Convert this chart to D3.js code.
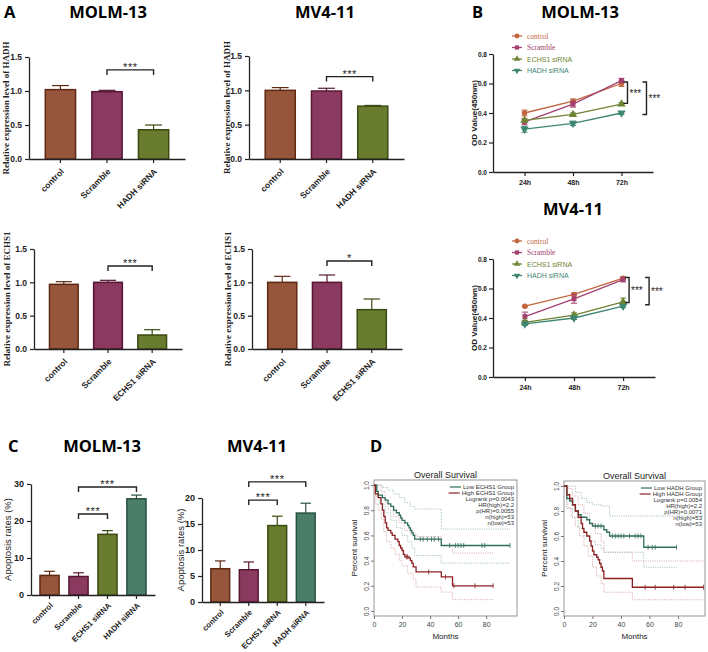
<!DOCTYPE html>
<html>
<head>
<meta charset="utf-8">
<script src="https://cdn.jsdelivr.net/npm/d3@7"></script>
<style>
  body { margin: 0; background: #fff; }
  text { font-family: 'Liberation Sans', Arial, sans-serif; }
</style>
</head>
<body>
<svg id="fig" width="708" height="652"></svg>
<script>
// ---------- data ----------
const hadhCats = ['control', 'Scramble', 'HADH siRNA'];
const echs1Cats = ['control', 'Scramble', 'ECHS1 siRNA'];
const apopCats = ['control', 'Scramble', 'ECHS1 siRNA', 'HADH siRNA'];

const molmHadhMean = [1.02, 0.99, 0.43];
const molmHadhSd = [0.06, 0.02, 0.07];
const mvHadhMean = [1.0, 0.99, 0.77];
const mvHadhSd = [0.04, 0.04, 0.01];
const molmEchs1Mean = [0.97, 1.0, 0.21];
const molmEchs1Sd = [0.04, 0.03, 0.08];
const mvEchs1Mean = [1.0, 1.0, 0.59];
const mvEchs1Sd = [0.09, 0.11, 0.16];
const exprTicks = [0, 0.5, 1.0, 1.5];

const molmApopMean = [5.3, 5.0, 16.4, 26.0];
const molmApopSd = [1.1, 1.0, 1.0, 1.0];
const mvApopMean = [6.4, 6.2, 14.7, 17.1];
const mvApopSd = [1.5, 1.5, 1.8, 1.9];

const timePoints = ['24h', '48h', '72h'];
const odSeries = ['control', 'Scramble', 'ECHS1 siRNA', 'HADH siRNA'];
const molmOdMean = [[0.40, 0.48, 0.60], [0.34, 0.46, 0.62], [0.35, 0.39, 0.46], [0.29, 0.33, 0.40]];
const molmOdSd = [[0.02, 0.015, 0.02], [0.02, 0.02, 0.015], [0.01, 0.01, 0.01], [0.02, 0.015, 0.01]];
const mvOdMean = [[0.48, 0.56, 0.67], [0.41, 0.53, 0.66], [0.37, 0.42, 0.51], [0.36, 0.40, 0.48]];
const mvOdSd = [[0.005, 0.01, 0.01], [0.03, 0.03, 0.015], [0.015, 0.015, 0.025], [0.01, 0.01, 0.01]];
const odTicks = [0, 0.2, 0.4, 0.6, 0.8];

// Kaplan-Meier curves: [month, survival]
const kmEchs1Low = [[0,1],[2,0.95],[3,0.92],[6,0.90],[8,0.88],[10,0.85],[12,0.83],[14,0.80],[16,0.78],[18,0.76],[19,0.74],[20,0.72],[22,0.70],[24,0.68],[25,0.66],[26,0.64],[27,0.62],[28,0.60],[29,0.57],[48,0.52],[97,0.52]];
const kmEchs1High = [[0,1],[1,0.93],[3,0.90],[5,0.85],[6,0.80],[7,0.75],[8,0.70],[9,0.66],[10,0.64],[12,0.62],[13,0.60],[15,0.57],[17,0.55],[18,0.52],[19,0.50],[20,0.48],[21,0.45],[22,0.43],[25,0.42],[26,0.40],[27,0.38],[28,0.35],[30,0.31],[48,0.27],[56,0.20],[85,0.20]];
const kmEchs1LowCens = [33, 35, 38, 41, 43, 46, 54, 58, 60, 62, 64, 77, 79, 97];
const kmEchs1HighCens = [23, 24, 39, 51, 57, 72, 85];
const kmEchs1LowUp = [[0,1],[3,1],[6,0.98],[10,0.96],[14,0.93],[18,0.90],[22,0.86],[26,0.83],[29,0.81],[48,0.65],[97,0.65]];
const kmEchs1LowLo = [[0,1],[2,0.90],[4,0.85],[8,0.78],[12,0.72],[16,0.66],[20,0.60],[24,0.55],[27,0.50],[29,0.44],[48,0.38],[97,0.38]];
const kmEchs1HighUp = [[0,1],[2,1],[5,0.95],[8,0.86],[10,0.80],[14,0.75],[18,0.70],[22,0.64],[26,0.61],[30,0.59],[48,0.52],[56,0.46],[85,0.46]];
const kmEchs1HighLo = [[0,1],[1,0.85],[3,0.80],[5,0.73],[7,0.63],[9,0.55],[12,0.50],[15,0.45],[18,0.40],[20,0.36],[24,0.30],[28,0.25],[30,0.19],[48,0.15],[56,0.09],[85,0.09]];
const kmEchs1Legend = ['Low ECHS1 Group', 'High ECHS1 Group', 'Logrank p=0.0043', 'HR(high)=2.2', 'p(HR)=0.0055', 'n(high)=53', 'n(low)=53'];

const kmHadhLow = [[0,1],[2,0.90],[4,0.88],[6,0.85],[8,0.80],[10,0.77],[12,0.75],[16,0.73],[18,0.70],[20,0.68],[28,0.65],[30,0.63],[32,0.60],[56,0.51],[79,0.51]];
const kmHadhHigh = [[0,1],[2,0.93],[4,0.90],[6,0.85],[8,0.80],[10,0.75],[12,0.70],[13,0.66],[14,0.63],[16,0.60],[18,0.56],[19,0.52],[20,0.48],[21,0.45],[23,0.43],[24,0.41],[25,0.38],[26,0.35],[27,0.32],[28,0.26],[48,0.19],[98,0.19]];
const kmHadhLowCens = [22, 24, 26, 34, 36, 38, 40, 42, 46, 50, 52, 54, 59, 62, 64, 79];
const kmHadhHighCens = [57, 64, 77, 85, 98];
const kmHadhLowUp = [[0,1],[4,1],[8,0.95],[12,0.90],[16,0.87],[20,0.85],[26,0.84],[32,0.76],[98,0.76]];
const kmHadhLowLo = [[0,1],[2,0.82],[6,0.75],[10,0.66],[14,0.60],[18,0.56],[22,0.53],[26,0.50],[28,0.47],[56,0.35],[79,0.35]];
const kmHadhHighUp = [[0,1],[3,0.98],[6,0.92],[10,0.85],[14,0.78],[18,0.70],[22,0.62],[26,0.56],[28,0.47],[48,0.40],[98,0.40]];
const kmHadhHighLo = [[0,1],[2,0.83],[5,0.75],[8,0.68],[11,0.60],[14,0.52],[17,0.44],[20,0.35],[23,0.28],[26,0.22],[28,0.15],[48,0.09],[98,0.09]];
const kmHadhLegend = ['Low HADH Group', 'High HADH Group', 'Logrank p=0.0054', 'HR(high)=2.2', 'p(HR)=0.0071', 'n(high)=53', 'n(low)=53'];
const kmMonthTicks = [0, 20, 40, 60, 80];
const kmSurvTicks = [0, 0.2, 0.4, 0.6, 0.8, 1.0];

// ---------- colours ----------
const barFill = {brown: '#95563b', plum: '#893a5e', olive: '#687b2e', teal: '#4b7e69'};
const barEdge = {brown: '#5f2a13', plum: '#571634', olive: '#3b4b11', teal: '#28503f'};
const lineColor = ['#c1653e', '#a3406f', '#6d8433', '#3e8672'];
const lineSymbol = [d3.symbolCircle, d3.symbolSquare, d3.symbolTriangle, d3.symbolTriangle];
const kmGreen = '#2f6e58', kmRed = '#8c1f22';
const kmGreenCi = '#8fb8a6', kmRedCi = '#d39c9c';

const svg = d3.select('#fig');

const heading = (x, y, t, anchor) => svg.append('text')
    .attr('x', x).attr('y', y).attr('text-anchor', anchor || 'middle')
    .style('font-family', "'Open Sans', sans-serif").style('font-weight', 700).style('font-size', '16.5px')
    .text(t);

const vLabel = (g, x, y, t, size, family, weight) => g.append('text')
    .attr('transform', `translate(${x},${y}) rotate(-90)`)
    .attr('text-anchor', 'middle')
    .style('font-family', family).style('font-weight', weight).style('font-size', size + 'px')
    .attr('fill', '#222').text(t);

const styleAxis = (a, size) => {
    a.select('.domain').attr('stroke', '#222').attr('stroke-width', 1.3);
    a.selectAll('.tick line').attr('stroke', '#222').attr('stroke-width', 1.2);
    a.selectAll('.tick text').attr('fill', '#222').style('font-weight', 700).style('font-size', size + 'px');
};

// ---------- bar panels ----------
function barPanel(cfg) {
    const g = svg.append('g');
    const y = d3.scaleLinear().domain([0, cfg.max]).range([cfg.bottom, cfg.top]);
    const x = d3.scaleBand().domain(cfg.cats).range([cfg.left, cfg.right])
        .paddingInner(cfg.pi).paddingOuter(cfg.po);
    const bw = x.bandwidth();
    const rows = cfg.cats.map((c, i) => ({cat: c, mean: cfg.mean[i], sd: cfg.sd[i], col: cfg.colors[i]}));

    g.selectAll('rect').data(rows).enter().append('rect')
        .attr('x', d => x(d.cat)).attr('y', d => y(d.mean))
        .attr('width', bw).attr('height', d => y(0) - y(d.mean))
        .attr('fill', d => barFill[d.col]).attr('stroke', d => barEdge[d.col]).attr('stroke-width', 1.5);

    const eb = g.selectAll('g.eb').data(rows).enter().append('g')
        .attr('stroke', d => barEdge[d.col]).attr('stroke-width', 1.2);
    eb.append('line')
        .attr('x1', d => x(d.cat) + bw / 2).attr('x2', d => x(d.cat) + bw / 2)
        .attr('y1', d => y(d.mean)).attr('y2', d => y(d.mean + d.sd));
    eb.append('line')
        .attr('x1', d => x(d.cat) + bw * 0.22).attr('x2', d => x(d.cat) + bw * 0.78)
        .attr('y1', d => y(d.mean + d.sd)).attr('y2', d => y(d.mean + d.sd));

    const ya = g.append('g').attr('transform', `translate(${cfg.left},0)`)
        .call(d3.axisLeft(y).tickValues(cfg.ticks).tickFormat(cfg.fmt).tickSize(4).tickSizeOuter(0));
    styleAxis(ya, cfg.tickFont);

    const xa = g.append('g').attr('transform', `translate(0,${cfg.bottom})`)
        .call(d3.axisBottom(x).tickSize(4).tickSizeOuter(0));
    styleAxis(xa, cfg.labelFont);
    xa.selectAll('.tick text')
        .attr('x', 0).attr('y', 0).attr('dy', '0.35em')
        .attr('text-anchor', 'end')
        .attr('transform', `translate(2,${cfg.labelDrop}) rotate(-45)`);

    cfg.sig.forEach(s => {
        const x1 = x(cfg.cats[s.a]) + bw / 2, x2 = x(cfg.cats[s.b]) + bw / 2, yb = y(s.level);
        g.append('path').attr('d', `M${x1},${yb + 5}V${yb}H${x2}V${yb + 5}`)
            .attr('fill', 'none').attr('stroke', '#222').attr('stroke-width', 1.4);
        g.append('text').attr('x', (x1 + x2) / 2).attr('y', yb + 1).attr('text-anchor', 'middle')
            .style('font-size', '11px').style('letter-spacing', '0.5px').attr('fill', '#222').text(s.label);
    });

    vLabel(g, cfg.labelX, (cfg.top + cfg.bottom) / 2, cfg.ylabel,
        cfg.ylabelSize, cfg.ylabelFamily, cfg.ylabelWeight);
}

const exprFmt = d3.format('.1f');
const serif = "'Liberation Serif', 'Times New Roman', serif";
const sans = "'Liberation Sans', Arial, sans-serif";
const exprBase = {max: 1.5, ticks: exprTicks, fmt: exprFmt, pi: 0.35, po: 0.35, tickFont: 8.5, labelFont: 8.5,
    labelDrop: 11, colors: ['brown', 'plum', 'olive'], ylabelSize: 9, ylabelFamily: serif, ylabelWeight: 700};

heading(4, 18, 'A', 'start');
heading(108, 18, 'MOLM-13');
heading(325, 18, 'MV4-11');

barPanel(Object.assign({}, exprBase, {left: 29, right: 185, top: 57, bottom: 159, cats: hadhCats,
    mean: molmHadhMean, sd: molmHadhSd, sig: [{a: 1, b: 2, level: 1.31, label: '***'}],
    labelX: 9, ylabel: 'Relative expression level of HADH'}));
barPanel(Object.assign({}, exprBase, {left: 249, right: 404, top: 56, bottom: 159, cats: hadhCats,
    mean: mvHadhMean, sd: mvHadhSd, sig: [{a: 1, b: 2, level: 1.2, label: '***'}],
    labelX: 230, ylabel: 'Relative expression level of HADH'}));
barPanel(Object.assign({}, exprBase, {left: 34, right: 182, top: 249, bottom: 349, cats: echs1Cats,
    mean: molmEchs1Mean, sd: molmEchs1Sd, sig: [{a: 1, b: 2, level: 1.245, label: '***'}],
    labelX: 10, ylabel: 'Relative expression level of ECHS1'}));
barPanel(Object.assign({}, exprBase, {left: 252, right: 402, top: 249, bottom: 349, cats: echs1Cats,
    mean: mvEchs1Mean, sd: mvEchs1Sd, sig: [{a: 1, b: 2, level: 1.32, label: '*'}],
    labelX: 231, ylabel: 'Relative expression level of ECHS1'}));

// ---------- line panels ----------
function linePanel(cfg) {
    const g = svg.append('g');
    const y = d3.scaleLinear().domain([0, 0.8]).range([cfg.bottom, cfg.top]);
    const x = d3.scalePoint().domain(timePoints).range([cfg.left, cfg.right]).padding(0.65);

    const ya = g.append('g').attr('transform', `translate(${cfg.left},0)`)
        .call(d3.axisLeft(y).tickValues(odTicks).tickFormat(d3.format('.1f')).tickSize(4).tickPadding(2).tickSizeOuter(0));
    styleAxis(ya, 6.5);
    const xa = g.append('g').attr('transform', `translate(0,${cfg.bottom})`)
        .call(d3.axisBottom(x).tickSize(4).tickSizeOuter(0));
    styleAxis(xa, 7);
    xa.selectAll('.tick text').attr('y', 8);

    const line = d3.line().x((d, i) => x(timePoints[i])).y(d => y(d));
    odSeries.forEach((s, k) => {
        const c = lineColor[k];
        g.append('path').datum(cfg.mean[k]).attr('d', line)
            .attr('fill', 'none').attr('stroke', c).attr('stroke-width', 1.3);
        cfg.mean[k].forEach((m, i) => {
            const cx = x(timePoints[i]), e = cfg.sd[k][i];
            g.append('path').attr('d', `M${cx},${y(m - e)}V${y(m + e)}M${cx - 3},${y(m - e)}H${cx + 3}M${cx - 3},${y(m + e)}H${cx + 3}`)
                .attr('stroke', c).attr('stroke-width', 1).attr('fill', 'none');
            g.append('path').attr('d', d3.symbol().type(lineSymbol[k]).size(k < 2 ? 24 : 30)())
                .attr('transform', `translate(${cx},${y(m)})` + (k === 3 ? ' rotate(180)' : ''))
                .attr('fill', c);
        });
        const ly = cfg.legendY + k * 11.5;
        g.append('line').attr('x1', cfg.legendX - 5).attr('x2', cfg.legendX + 5)
            .attr('y1', ly).attr('y2', ly).attr('stroke', c).attr('stroke-width', 1.3);
        g.append('path').attr('d', d3.symbol().type(lineSymbol[k]).size(18)())
            .attr('transform', `translate(${cfg.legendX},${ly})` + (k === 3 ? ' rotate(180)' : ''))
            .attr('fill', c);
        g.append('text').attr('x', cfg.legendX + 10).attr('y', ly + 2.5)
            .style('font-family', k < 2 ? serif : sans).style('font-size', k < 2 ? '7.5px' : '7px')
            .attr('fill', c).text(s);
    });

    const x72 = x(timePoints[2]);
    cfg.brackets.forEach(b => {
        const xb = x72 + b.dx, y1 = y(b.from), y2 = y(b.to);
        g.append('path').attr('d', `M${xb - 4},${y1}H${xb}V${y2}H${xb - 4}`)
            .attr('fill', 'none').attr('stroke', '#222').attr('stroke-width', 1.4);
        g.append('text').attr('x', xb + 2).attr('y', (y1 + y2) / 2 + 4)
            .style('font-size', '10px').attr('fill', '#222').text('***');
    });

    vLabel(g, cfg.labelX, cfg.labelY, 'OD Value(450nm)', 8, sans, 700);
}

heading(472, 18, 'B', 'start');
heading(580, 18, 'MOLM-13');
heading(573, 215, 'MV4-11');

linePanel({left: 493, right: 653, top: 54, bottom: 172, mean: molmOdMean, sd: molmOdSd,
    legendX: 517, legendY: 36, labelX: 477, labelY: 113,
    brackets: [{dx: 6, from: 0.61, to: 0.465}, {dx: 25, from: 0.61, to: 0.39}]});
linePanel({left: 493, right: 655, top: 259, bottom: 377, mean: mvOdMean, sd: mvOdSd,
    legendX: 517, legendY: 241, labelX: 477, labelY: 318,
    brackets: [{dx: 6, from: 0.675, to: 0.505}, {dx: 26, from: 0.675, to: 0.49}]});

// ---------- apoptosis panels ----------
heading(8, 452, 'C', 'start');
heading(102, 452, 'MOLM-13');
heading(257, 452, 'MV4-11');

const apopBase = {fmt: d3.format('d'), pi: 0.34, po: 0.31, tickFont: 9, labelFont: 7.8, labelDrop: 9,
    colors: ['brown', 'plum', 'olive', 'teal'],
    ylabelSize: 9.5, ylabelFamily: sans, ylabelWeight: 400, ylabel: 'Apoptosis rates (%)'};
barPanel(Object.assign({}, apopBase, {left: 31, right: 155, top: 484, bottom: 595, max: 30, ticks: [0, 10, 20, 30],
    cats: apopCats, mean: molmApopMean, sd: molmApopSd,
    sig: [{a: 1, b: 2, level: 21.9, label: '***'}, {a: 1, b: 3, level: 29.2, label: '***'}],
    labelX: 11}));
barPanel(Object.assign({}, apopBase, {left: 202, right: 324, top: 498, bottom: 602, max: 20, ticks: [0, 5, 10, 15, 20],
    cats: apopCats, mean: mvApopMean, sd: mvApopSd,
    sig: [{a: 1, b: 2, level: 19.6, label: '***'}, {a: 1, b: 3, level: 23.1, label: '***'}],
    labelX: 184}));

// ---------- survival panels ----------
const survAt = (curve, t) => {
    let s = curve[0][1];
    curve.forEach(p => { if (p[0] <= t) s = p[1]; });
    return s;
};

function kmPanel(cfg) {
    const g = svg.append('g');
    const x = d3.scaleLinear().domain([0, cfg.xmax]).range([cfg.left, cfg.right]);
    const y = d3.scaleLinear().domain([-0.04, 1.04]).range([cfg.bottom, cfg.top]);
    const step = d3.line().curve(d3.curveStepAfter).x(d => x(d[0])).y(d => y(d[1]));

    g.append('rect').attr('x', cfg.left).attr('y', cfg.top)
        .attr('width', cfg.right - cfg.left).attr('height', cfg.bottom - cfg.top)
        .attr('fill', 'none').attr('stroke', '#8a8a8a').attr('stroke-width', 0.9);

    const xa = g.append('g').attr('transform', `translate(0,${cfg.bottom})`)
        .call(d3.axisBottom(x).tickValues(kmMonthTicks).tickSize(3));
    xa.select('.domain').remove();
    xa.selectAll('.tick line').attr('stroke', '#777');
    xa.selectAll('.tick text').attr('fill', '#444').style('font-size', '7px').attr('y', 6);

    const ya = g.append('g').attr('transform', `translate(${cfg.left},0)`)
        .call(d3.axisLeft(y).tickValues(kmSurvTicks).tickFormat(d3.format('.1f')).tickSize(3));
    ya.select('.domain').remove();
    ya.selectAll('.tick line').attr('stroke', '#777');
    ya.selectAll('.tick text').attr('fill', '#444').style('font-size', '6.5px')
        .attr('x', 0).attr('y', -5).attr('dy', 0).attr('text-anchor', 'middle')
        .attr('transform', 'rotate(-90)');

    [[cfg.lowUp, kmGreenCi], [cfg.lowLo, kmGreenCi], [cfg.highUp, kmRedCi], [cfg.highLo, kmRedCi]].forEach(([c, col]) => {
        g.append('path').datum(c).attr('d', step).attr('fill', 'none')
            .attr('stroke', col).attr('stroke-width', 0.9).attr('stroke-dasharray', '1,1.3');
    });

    [[cfg.low, cfg.lowCens, kmGreen], [cfg.high, cfg.highCens, kmRed]].forEach(([c, cens, col]) => {
        g.append('path').datum(c).attr('d', step).attr('fill', 'none')
            .attr('stroke', col).attr('stroke-width', 1.3);
        g.selectAll(null).data(cens).enter().append('line')
            .attr('x1', t => x(t)).attr('x2', t => x(t))
            .attr('y1', t => y(survAt(c, t)) - 2.5).attr('y2', t => y(survAt(c, t)) + 2.5)
            .attr('stroke', col).attr('stroke-width', 0.8);
    });

    const cx = (cfg.left + cfg.right) / 2;
    g.append('text').attr('x', cx).attr('y', cfg.top - 2).attr('text-anchor', 'middle')
        .style('font-size', '9px').attr('fill', '#222').text('Overall Survival');
    g.append('text').attr('x', cx).attr('y', cfg.bottom + 23).attr('text-anchor', 'middle')
        .style('font-size', '8px').attr('fill', '#222').text('Months');
    vLabel(g, cfg.left - 17, (cfg.top + cfg.bottom) / 2, 'Percent survival', 8, sans, 400);

    cfg.legend.forEach((t, i) => {
        const ty = cfg.top + 9 + i * 6;
        const tx = g.append('text').attr('x', cfg.right - 3).attr('y', ty).attr('text-anchor', 'end')
            .style('font-size', '6px').attr('fill', '#333').text(t);
        if (i < 2) {
            const start = cfg.right - 3 - tx.node().getComputedTextLength();
            g.append('line').attr('x1', start - 13).attr('x2', start - 2)
                .attr('y1', ty - 2).attr('y2', ty - 2)
                .attr('stroke', i === 0 ? kmGreen : kmRed).attr('stroke-width', 1.2);
        }
    });
}

heading(370, 452, 'D', 'start');

kmPanel({left: 374, right: 517, top: 480, bottom: 616, xmax: 102,
    low: kmEchs1Low, high: kmEchs1High, lowCens: kmEchs1LowCens, highCens: kmEchs1HighCens,
    lowUp: kmEchs1LowUp, lowLo: kmEchs1LowLo, highUp: kmEchs1HighUp, highLo: kmEchs1HighLo,
    legend: kmEchs1Legend});
kmPanel({left: 564, right: 705, top: 481, bottom: 616, xmax: 99,
    low: kmHadhLow, high: kmHadhHigh, lowCens: kmHadhLowCens, highCens: kmHadhHighCens,
    lowUp: kmHadhLowUp, lowLo: kmHadhLowLo, highUp: kmHadhHighUp, highLo: kmHadhHighLo,
    legend: kmHadhLegend});
</script>
</body>
</html>
